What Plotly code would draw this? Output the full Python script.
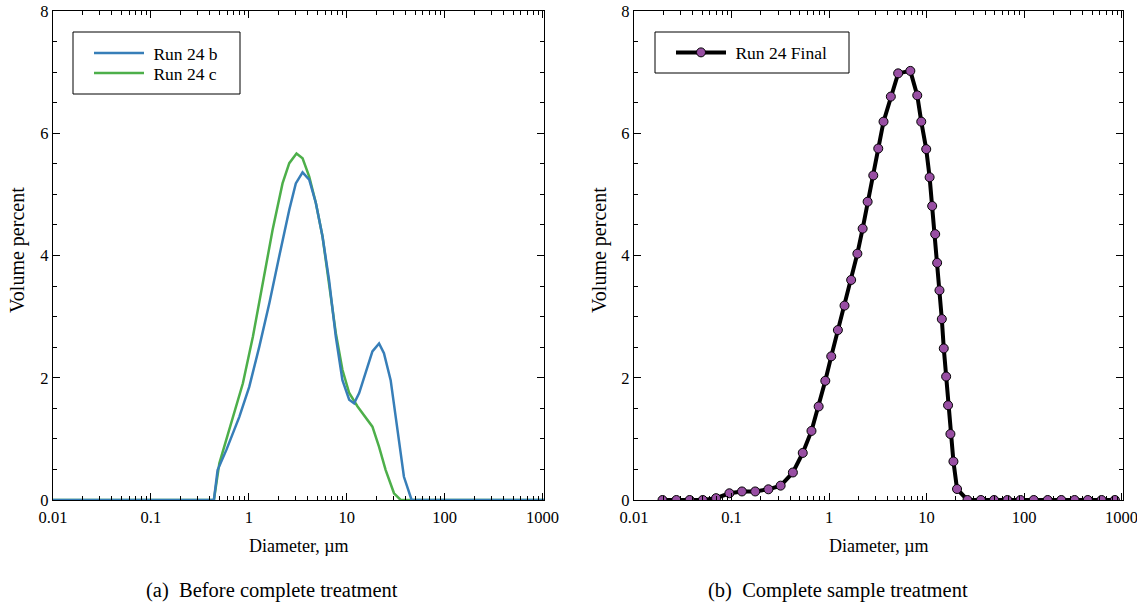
import plotly.graph_objects as go

# ---------------- data ----------------
# Panel (a): before complete treatment
diam_b = [0.01, 0.44, 0.48, 0.59, 0.80, 1.01, 1.28, 1.62, 2.04, 2.59, 3.02, 3.54, 4.14, 4.84,
          5.66, 6.6, 7.74, 9.04, 10.6, 11.9, 13.4, 15.6, 18.3, 21.4, 24.0, 28.1, 32.8, 38.4, 46.0, 1100]
vol_b = [0, 0, 0.49, 0.82, 1.36, 1.85, 2.51, 3.22, 3.98, 4.75, 5.18, 5.36, 5.24, 4.86,
         4.31, 3.60, 2.67, 1.96, 1.64, 1.58, 1.75, 2.07, 2.43, 2.56, 2.40, 1.96, 1.20, 0.38, 0, 0]

diam_c = [0.01, 0.44, 0.50, 0.63, 0.87, 1.10, 1.39, 1.75, 2.21, 2.59, 3.07, 3.54, 4.14, 4.84,
          5.66, 6.6, 7.74, 9.04, 10.6, 12.9, 15.6, 18.3, 21.4, 25.0, 30.4, 35.6, 1100]
vol_c = [0, 0, 0.60, 1.15, 1.91, 2.67, 3.55, 4.42, 5.18, 5.51, 5.67, 5.59, 5.29, 4.86,
         4.31, 3.55, 2.73, 2.13, 1.75, 1.53, 1.36, 1.20, 0.87, 0.49, 0.11, 0, 0]

# Panel (b): complete sample treatment
diam_f = [0.0196, 0.0272, 0.0372, 0.0508, 0.0695, 0.0951, 0.128, 0.175, 0.239, 0.319,
          0.426, 0.538, 0.661, 0.783, 0.916, 1.054, 1.233, 1.442, 1.687, 1.954,
          2.213, 2.489, 2.844, 3.199, 3.622, 4.305, 5.117, 6.823, 8.035, 8.831,
          9.931, 10.76, 11.43, 12.27, 12.85, 13.58, 14.35, 15.03, 15.89, 16.63,
          17.58, 18.88, 20.56, 26.3, 36.1, 49.3, 67.5, 92.0, 125.9, 175,
          241, 330, 451, 625, 855]
vol_f = [0, 0, 0, 0, 0.03, 0.11, 0.14, 0.14, 0.175, 0.235,
         0.45, 0.77, 1.13, 1.53, 1.95, 2.35, 2.78, 3.18, 3.60, 4.03,
         4.44, 4.88, 5.31, 5.75, 6.19, 6.60, 6.98, 7.02, 6.62, 6.19,
         5.74, 5.28, 4.81, 4.35, 3.88, 3.43, 2.96, 2.48, 2.02, 1.55,
         1.08, 0.63, 0.18, 0, 0, 0, 0, 0, 0, 0,
         0, 0, 0, 0, 0]

x_tickvals = [0.01, 0.1, 1, 10, 100, 1000]
x_ticktext = ["0.01", "0.1", "1", "10", "100", "1000"]
y_tickvals = [0, 2, 4, 6, 8]
y_ticktext = ["0", "2", "4", "6", "8"]

x_minor = [m * 10 ** e for e in range(-2, 3) for m in range(2, 10)]
y_minor = [0.5, 1, 1.5, 2.5, 3, 3.5, 4.5, 5, 5.5, 6.5, 7, 7.5]

BLUE = "#377eb8"
GREEN = "#4daf4a"
PURPLE = "#984ea3"
FONT = "Liberation Serif"
NB = "\u00a0"

W, H = 1137, 605
# plot-area pixel boxes
L1, R1 = 53, 544
L2, R2 = 634, 1123
TOP, BOT = 11, 500

def px(x):
    return x / W

def py(y):
    return 1 - y / H

fig = go.Figure()

fig.add_trace(go.Scatter(x=diam_c, y=vol_c, mode="lines", name=NB + "Run 24 c",
                         line=dict(color=GREEN, width=2.5), xaxis="x", yaxis="y",
                         legend="legend3"))
fig.add_trace(go.Scatter(x=diam_b, y=vol_b, mode="lines", name=NB + "Run 24 b",
                         line=dict(color=BLUE, width=2.5), xaxis="x", yaxis="y",
                         legend="legend"))
fig.add_trace(go.Scatter(x=diam_f, y=vol_f, mode="lines+markers", name=NB + "Run 24 Final",
                         line=dict(color="black", width=4),
                         marker=dict(color=PURPLE, size=9, line=dict(color="black", width=1)),
                         xaxis="x2", yaxis="y2", legend="legend2"))

def xaxis(domain, anchor):
    return dict(type="log", range=[-2, 3.015], domain=domain, anchor=anchor,
                automargin=False, ticklabeloverflow="allow",
                tickmode="array", tickvals=x_tickvals, ticktext=x_ticktext,
                ticks="inside", ticklen=7, tickwidth=1, tickcolor="black",
                ticklabelstandoff=2,
                minor=dict(tickmode="array", tickvals=x_minor, ticks="inside",
                           ticklen=4, tickwidth=1, tickcolor="black"),
                showline=True, linecolor="black", linewidth=1.3, mirror="allticks",
                showgrid=False, zeroline=False,
                tickfont=dict(family=FONT, size=16.5, color="black"))

def yaxis(domain, anchor):
    return dict(range=[0, 8], domain=domain, anchor=anchor,
                automargin=False, ticklabeloverflow="allow",
                tickmode="array", tickvals=y_tickvals, ticktext=y_ticktext,
                ticks="inside", ticklen=7, tickwidth=1, tickcolor="black",
                minor=dict(tickmode="array", tickvals=y_minor, ticks="inside",
                           ticklen=4, tickwidth=1, tickcolor="black"),
                showline=True, linecolor="black", linewidth=1.3, mirror="allticks",
                showgrid=False, zeroline=False,
                tickfont=dict(family=FONT, size=16.5, color="black"))

def legend(xpix, ypix):
    return dict(x=px(xpix), y=py(ypix), xanchor="left", yanchor="middle",
                borderwidth=0, bgcolor="rgba(0,0,0,0)",
                font=dict(family=FONT, size=17.5, color="black"),
                itemwidth=50)

ydom = [py(BOT), py(TOP)]
fig.update_layout(
    template="none",
    width=W, height=H,
    margin=dict(l=0, r=0, t=0, b=0, autoexpand=False),
    paper_bgcolor="white", plot_bgcolor="white",
    font=dict(family=FONT, color="black"),
    xaxis=xaxis([px(L1), px(R1)], "y"),
    yaxis=yaxis(ydom, "x"),
    xaxis2=xaxis([px(L2), px(R2)], "y2"),
    yaxis2=yaxis(ydom, "x2"),
    legend=legend(89, 53),
    legend3=legend(89, 73),
    legend2=legend(671, 52.5),
    showlegend=True,
)

# legend frames
for (x0, y0, x1, y1) in [(73, 32, 240, 94), (655, 32, 849, 73)]:
    fig.add_shape(type="rect", xref="paper", yref="paper",
                  x0=px(x0), x1=px(x1), y0=py(y1), y1=py(y0),
                  line=dict(color="black", width=1), fillcolor="rgba(0,0,0,0)",
                  layer="below")

annotations = [
    dict(text="Diameter, µm", x=px((L1 + R1) / 2), y=py(546), size=18),
    dict(text="Diameter, µm", x=px((L2 + R2) / 2), y=py(546), size=18),
    dict(text="Volume percent", x=px(18), y=py(250), textangle=-90, size=20),
    dict(text="Volume percent", x=px(600), y=py(250), textangle=-90, size=20),
    dict(text="(a)  Before complete treatment", x=px(272), y=py(590), size=20.5),
    dict(text="(b)  Complete sample treatment", x=px(838), y=py(590), size=20.5),
]
for a in annotations:
    fig.add_annotation(text=a["text"], x=a["x"], y=a["y"], xref="paper", yref="paper",
                       xanchor="center", yanchor="middle", showarrow=False,
                       textangle=a.get("textangle", 0),
                       font=dict(family=FONT, size=a["size"], color="black"))

fig.write_html("out.html", config={"displayModeBar": False},
               post_script="document.body.style.margin='0';")
